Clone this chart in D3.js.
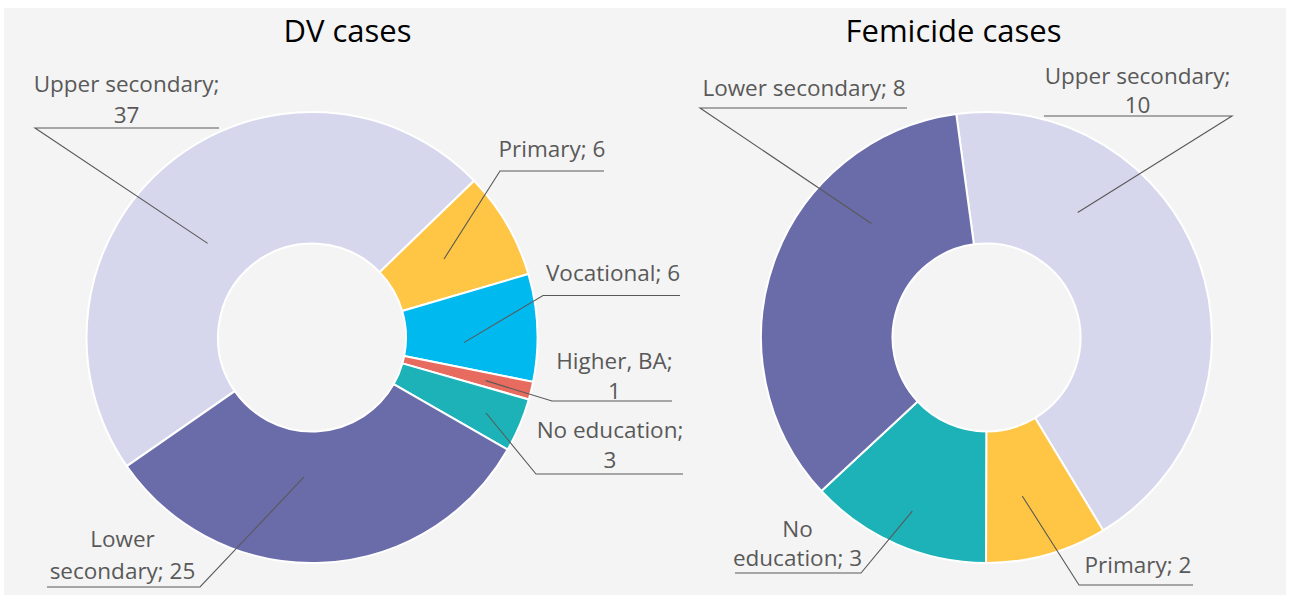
<!DOCTYPE html>
<html>
<head>
<meta charset="utf-8">
<script src="https://cdn.jsdelivr.net/npm/d3@7"></script>
<style>
  html, body { margin: 0; padding: 0; background: #ffffff; }
  svg { display: block; }
</style>
</head>
<body>
<svg id="chart" width="1290" height="595"></svg>
<script>
// ---------------- data ----------------
const dvTitle = "DV cases";
const dvCategories = ["Upper secondary", "Primary", "Vocational", "Higher, BA", "No education", "Lower secondary"];
const dvValues = [37, 6, 6, 1, 3, 25];

const femTitle = "Femicide cases";
const femCategories = ["Upper secondary", "Primary", "No education", "Lower secondary"];
const femValues = [10, 2, 3, 8];

const categoryColors = {
  "Upper secondary": "#d6d7ec",
  "Primary": "#ffc545",
  "Vocational": "#00b9ef",
  "Higher, BA": "#e86b5f",
  "No education": "#1cb2b8",
  "Lower secondary": "#6a6caa"
};

// ---------------- layout ----------------
const W = 1290, H = 595;
const svg = d3.select("#chart");
const FONT = "'Open Sans', 'Noto Sans', sans-serif";
const LABEL_COLOR = "#595959";
const LINE_COLOR = "#595959";
const LABEL_SIZE = 22.5;
const TITLE_SIZE = 31;

svg.append("rect").attr("x", 4).attr("y", 8).attr("width", 1282).attr("height", 587).attr("fill", "#f4f4f4");

// label layout: words on first line (wrap), text center x, first baseline, line height,
// underline y, underline x-range, side of the leader joint, leader end (fraction within slice, radius)
const dvLayout = {
  cx: 312, cy: 337.5, rOuter: 225.5, rInner: 94, startDeg: 235.2,
  titleX: 347.5, titleY: 42,
  labels: [
    { wrap: 2, tx: 126.5, by: 92, lh: 30.5, uy: 128, ux0: 35, ux1: 219, joint: "left", frac: 0.45, r: 140.5 },
    { wrap: 0, tx: 552, by: 157, lh: 30, uy: 171, ux0: 500, ux1: 604, joint: "left", frac: 0.48, r: 153.6 },
    { wrap: 0, tx: 613, by: 281, lh: 30, uy: 295.5, ux0: 543, ux1: 680, joint: "left", frac: 0.66, r: 152 },
    { wrap: 2, tx: 614.5, by: 369, lh: 29.5, uy: 401, ux0: 552, ux1: 672, joint: "left", frac: 0.56, r: 179 },
    { wrap: 2, tx: 610, by: 438, lh: 29.5, uy: 474, ux0: 536, ux1: 683, joint: "left", frac: 0.54, r: 189.7 },
    { wrap: 1, tx: 122.5, by: 547, lh: 32, uy: 587, ux0: 47, ux1: 200, joint: "right", frac: 0.55, r: 139.7 }
  ]
};
const femLayout = {
  cx: 986.5, cy: 337.5, rOuter: 225.5, rInner: 94, startDeg: -7.7,
  titleX: 953.5, titleY: 42,
  labels: [
    { wrap: 2, tx: 1137.5, by: 84, lh: 29, uy: 116, ux0: 1044, ux1: 1232, joint: "right", frac: 0.28, r: 154.7 },
    { wrap: 0, tx: 1138, by: 573, lh: 30, uy: 585, ux0: 1079, ux1: 1193, joint: "left", frac: 0.59, r: 162.4 },
    { wrap: 1, tx: 797.5, by: 537, lh: 29, uy: 573, ux0: 735, ux1: 861, joint: "right", frac: 0.49, r: 188.8 },
    { wrap: 0, tx: 804, by: 96, lh: 30, uy: 108, ux0: 700, ux1: 907, joint: "left", frac: 0.70, r: 162 }
  ]
};

function drawDonut(title, categories, values, L) {
  const g = svg.append("g");
  const data = categories.map((c, i) => ({ category: c, value: values[i] }));
  const start = L.startDeg * Math.PI / 180;
  const pie = d3.pie().value(d => d.value).sort(null)
    .startAngle(start).endAngle(start + 2 * Math.PI);
  const arcs = pie(data);
  const arc = d3.arc().innerRadius(L.rInner).outerRadius(L.rOuter);

  const slices = g.append("g").attr("transform", `translate(${L.cx},${L.cy})`);
  slices.selectAll("path").data(arcs).join("path")
    .attr("d", arc)
    .attr("fill", d => categoryColors[d.data.category])
    .attr("stroke", "#ffffff")
    .attr("stroke-width", 2)
    .attr("stroke-linejoin", "round");

  g.append("text")
    .attr("x", L.titleX).attr("y", L.titleY)
    .attr("text-anchor", "middle")
    .attr("font-family", FONT).attr("font-size", TITLE_SIZE)
    .attr("fill", "#000000")
    .text(title);

  arcs.forEach((a, i) => {
    const lab = L.labels[i];
    const full = `${a.data.category}; ${a.data.value}`;
    const words = full.split(" ");
    const lines = lab.wrap > 0 ? [words.slice(0, lab.wrap).join(" "), words.slice(lab.wrap).join(" ")] : [full];
    const ang = a.startAngle + lab.frac * (a.endAngle - a.startAngle);
    const ex = L.cx + lab.r * Math.sin(ang);
    const ey = L.cy - lab.r * Math.cos(ang);
    const jx = lab.joint === "left" ? lab.ux0 : lab.ux1;
    const ox = lab.joint === "left" ? lab.ux1 : lab.ux0;
    g.append("polyline")
      .attr("points", `${ox},${lab.uy} ${jx},${lab.uy} ${ex},${ey}`)
      .attr("fill", "none")
      .attr("stroke", LINE_COLOR)
      .attr("stroke-width", 1.1);
    const t = g.append("text")
      .attr("text-anchor", "middle")
      .attr("font-family", FONT).attr("font-size", LABEL_SIZE)
      .attr("fill", LABEL_COLOR);
    lines.forEach((ln, k) => {
      t.append("tspan").attr("x", lab.tx).attr("y", lab.by + k * lab.lh).text(ln);
    });
  });
}

drawDonut(dvTitle, dvCategories, dvValues, dvLayout);
drawDonut(femTitle, femCategories, femValues, femLayout);
</script>
</body>
</html>
